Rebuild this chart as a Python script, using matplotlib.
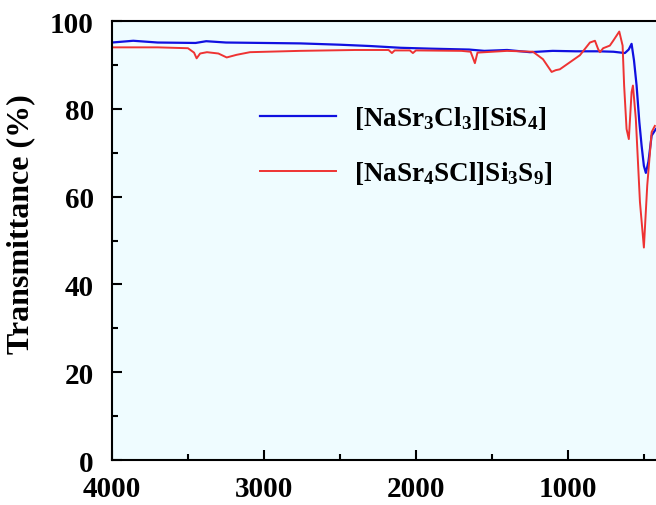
import numpy as np
import matplotlib
matplotlib.use('Agg')
import matplotlib.pyplot as plt
from matplotlib.ticker import MultipleLocator

plt.rcParams['font.family'] = 'Liberation Serif'
plt.rcParams['font.weight'] = 'bold'
plt.rcParams['mathtext.fontset'] = 'custom'
plt.rcParams['mathtext.bf'] = 'Liberation Serif:bold'
plt.rcParams['mathtext.rm'] = 'Liberation Serif:bold'
plt.rcParams['mathtext.default'] = 'bf'

# --- Data ---
wn_blue = [4000, 3860, 3700, 3450, 3380, 3250, 3000, 2760, 2500, 2300, 2100,
           1900, 1650, 1550, 1400, 1250, 1100, 950, 800, 700, 625, 600, 581,
           565, 548, 530, 515, 500, 487, 470, 449, 421]
tr_blue = [95.1, 95.5, 95.1, 95.0, 95.4, 95.1, 95.0, 94.9, 94.6, 94.3, 93.9,
           93.7, 93.5, 93.2, 93.4, 92.9, 93.2, 93.1, 93.1, 93.0, 92.7, 93.5, 94.8,
           91.0, 85.3, 77.0, 71.6, 67.0, 65.4, 68.0, 73.9, 75.4]

wn_red = [4000, 3700, 3500, 3460, 3443, 3420, 3375, 3300, 3245, 3180, 3092,
          2763, 2400, 2180, 2158, 2140, 2040, 2020, 2000, 1700, 1640, 1612,
          1595, 1400, 1230, 1164, 1107, 1080, 1053, 987, 921, 855, 822, 801,
          789, 768, 724, 702, 662, 640, 630, 614, 599, 581, 572, 553, 526,
          500, 478, 449, 428]
tr_red = [94.0, 94.0, 93.8, 92.8, 91.5, 92.6, 92.9, 92.6, 91.7, 92.3, 92.9,
          93.2, 93.4, 93.4, 92.7, 93.3, 93.3, 92.7, 93.3, 93.2, 93.0, 90.4,
          92.8, 93.2, 93.0, 91.3, 88.4, 88.8, 89.0, 90.6, 92.2, 95.1, 95.5, 93.6,
          92.9, 93.8, 94.4, 95.5, 97.6, 94.4, 85.3, 75.4, 73.1, 83.8, 85.3, 77.7, 58.8,
          48.4, 62.5, 74.7, 76.1]

labels = [r'[NaSr$_3$Cl$_3$][SiS$_4$]', r'[NaSr$_4$SCl]Si$_3$S$_9$]']

fig = plt.figure(figsize=(6.56, 5.06), dpi=100)
ax = fig.add_axes([0.1707, 0.0889, 0.834, 0.8676])
ax.set_facecolor('#effcff')

ax.plot(wn_blue, tr_blue, color='#1010e0', lw=1.6, label=labels[0])
ax.plot(wn_red, tr_red, color='#ee3333', lw=1.4, label=labels[1])

ax.set_xlim(4000, 400)
ax.set_ylim(0, 100)
ax.set_xticks([4000, 3000, 2000, 1000])
ax.xaxis.set_minor_locator(MultipleLocator(500))
ax.yaxis.set_major_locator(MultipleLocator(20))
ax.yaxis.set_minor_locator(MultipleLocator(10))
ax.tick_params(which='both', direction='in', width=1.5, labelsize=21)
ax.tick_params(which='major', length=7)
ax.tick_params(which='minor', length=4)
ax.tick_params(axis='y', which='major', pad=13)
ax.tick_params(axis='x', which='major', pad=11)
for s in ax.spines.values():
    s.set_linewidth(1.5)

ax.set_ylabel('Transmittance (%)', fontsize=23, fontweight='bold')
ax.yaxis.set_label_coords(-0.141, 0.54)

ax.legend(loc='upper left', bbox_to_anchor=(0.226, 0.866), frameon=False,
          fontsize=19.5, handlelength=2.8, handletextpad=0.67, labelspacing=1.03)

fig.savefig('out.png', dpi=100)
